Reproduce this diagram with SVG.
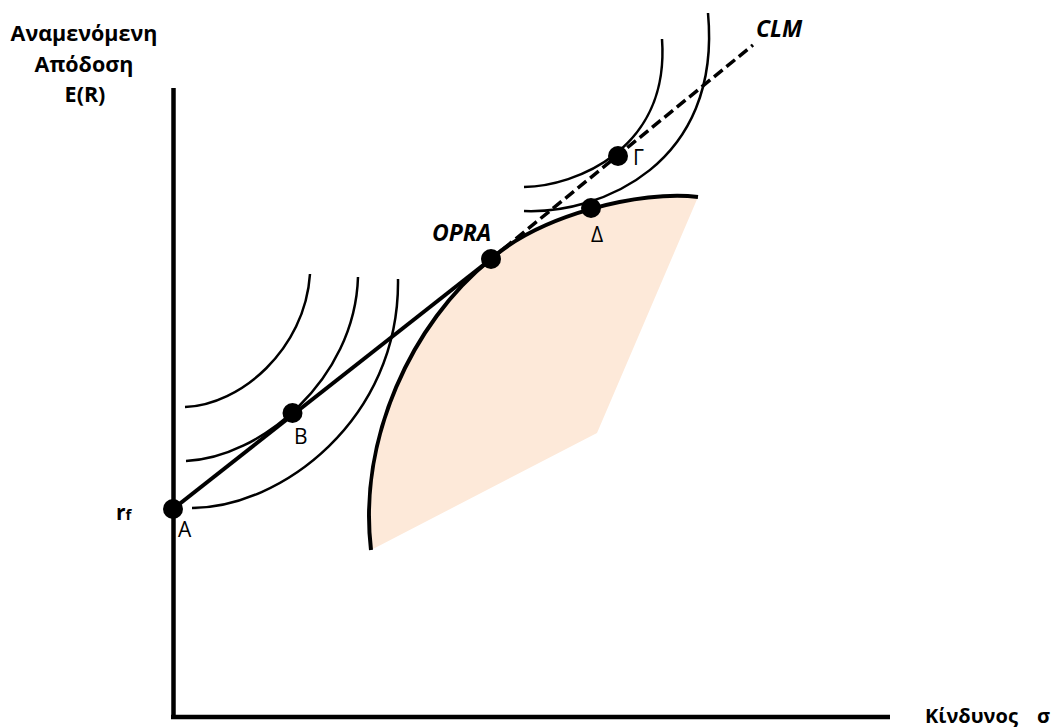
<svg xmlns="http://www.w3.org/2000/svg" width="1053" height="728" viewBox="0 0 1053 728">
<style>
.ax{stroke:#000;stroke-width:4.5;fill:none}
.ic{stroke:#000;stroke-width:2.5;fill:none}
.fr{stroke:#000;stroke-width:4;fill:none}
.cml{stroke:#000;stroke-width:4;fill:none}
.cmld{stroke:#000;stroke-width:3.5;fill:none;stroke-dasharray:11 5}
.dot{fill:#000}
.t{font-family:"Open Sans","DejaVu Sans",sans-serif;fill:#000}
.b{font-weight:bold}
.bi{font-weight:bold;font-style:italic}
.lbl{font-size:21px}
</style>
<rect width="1053" height="728" fill="#fff"/>
<g id="region">
<path d="M371,550 C358,440 411,323 491,259 C541,215 640,190 698,197 L597,433 Z" fill="#FDE9D9"/>
</g>
<g id="axes">
<line class="ax" x1="173.5" y1="88" x2="173.5" y2="719"/>
<line class="ax" x1="171" y1="717" x2="890" y2="717"/>
</g>
<g id="connectors">
<path class="fr" d="M371,550 C358,440 411,323 491,259 C541,215 640,190 698,197"/>
<path class="ic" d="M185,407 C240,405 305,350 310,274"/>
<path class="ic" d="M186,461 C260,458 355,380 358,277"/>
<path class="ic" d="M192,508 C280,508 400,420 398,279"/>
<path class="ic" d="M524,187 C575,186 670,150 662,39"/>
<path class="ic" d="M524,211 C600,214 722,165 708,13"/>
<line class="cml" x1="173" y1="509" x2="491" y2="259"/>
<line class="cmld" x1="491" y1="259" x2="753" y2="45"/>
</g>
<g id="node-A"><circle class="dot" cx="173" cy="509" r="10"/><text class="t lbl" x="178" y="537">A</text></g>
<g id="node-B"><circle class="dot" cx="292.5" cy="413" r="10"/><text class="t lbl" x="294" y="444">B</text></g>
<g id="node-OPRA"><circle class="dot" cx="491" cy="259" r="10"/><text class="t bi" font-size="23" x="432" y="241">OPRA</text></g>
<g id="node-Delta"><circle class="dot" cx="591" cy="208" r="10"/><text class="t lbl" x="591" y="242">Δ</text></g>
<g id="node-Gamma"><circle class="dot" cx="618" cy="156" r="10"/><text class="t lbl" x="633" y="165">Γ</text></g>
<g id="labels">
<text class="t b" font-size="21.5" text-anchor="middle" x="84" y="41">Αναμενόμενη</text>
<text class="t b" font-size="21.5" text-anchor="middle" x="84" y="72">Απόδοση</text>
<text class="t b" font-size="21.5" text-anchor="middle" x="85" y="102">E(R)</text>
<text class="t bi" font-size="23" x="756" y="37">CLM</text>
<text class="t b" x="116" y="520"><tspan font-size="21">r</tspan><tspan font-size="15">f</tspan></text>
<text class="t b" font-size="20" x="925" y="723">Κίνδυνος<tspan x="1037">σ</tspan></text>
</g>
</svg>
